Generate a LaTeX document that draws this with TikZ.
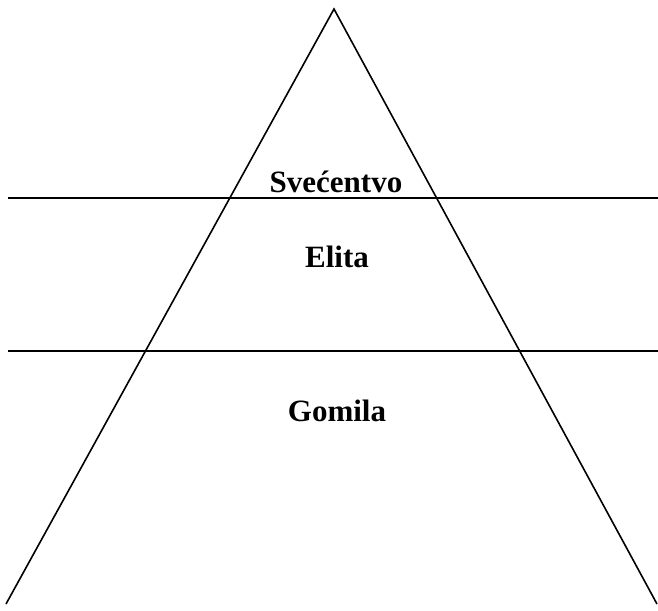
\documentclass[tikz,border=0pt]{standalone}
\usepackage{fontspec}
\setmainfont{Liberation Serif}

\begin{document}
\begin{tikzpicture}[x=1pt,y=-1pt,
        edge/.style={line width=1.6pt},
        lvl/.style={font=\fontsize{31}{36}\selectfont\bfseries,anchor=base,inner sep=0pt}]

      \useasboundingbox (0,0) rectangle (658,610);

      \coordinate (top)   at (334,9);
      \coordinate (left)  at (6,604);
      \coordinate (right) at (657,604);

      \draw[edge] (left) -- (top) -- (right);                    % pyramid
      \draw[edge] (8,198) coordinate (a1) -- (658,198) coordinate (a2); % upper cut
      \draw[edge] (8,351) coordinate (b1) -- (658,351) coordinate (b2); % lower cut

      \node[lvl] (svec) at (336,192) {Svećentvo};
      \node[lvl] (elita) at (337,267) {Elita};
      \node[lvl] (gomila) at (337,421) {Gomila};
    \end{tikzpicture}
\end{document}
